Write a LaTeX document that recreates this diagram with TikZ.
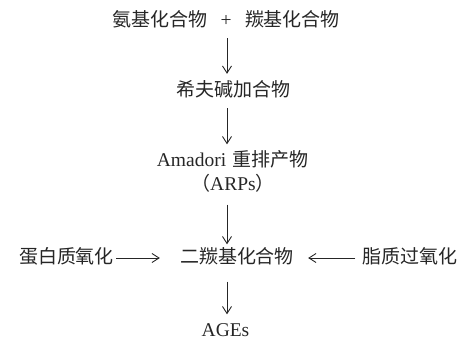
\documentclass[tikz,border=0pt]{standalone}
\usepackage{fontspec}
\setmainfont{Liberation Serif}
\newfontfamily\cjk[Scale=0.974]{Noto Sans CJK SC}
\usepackage{tikz}
\usetikzlibrary{arrows.meta}
\tikzset{every node/.style={inner sep=0pt,text height=14bp,text depth=3bp,
        font=\fontsize{19.5bp}{22bp}\selectfont,text=black!85},
    flow/.style={draw=black!85,line width=0.9bp,-{Straight Barb[length=7bp,width=9bp]}},
    down/.style={flow,shorten <=9bp,shorten >=8bp}}

\begin{document}
\begin{tikzpicture}[x=1bp,y=1bp]
    \useasboundingbox (0,0) rectangle (459,344);
    \coordinate (ax) at (227,0);
    \node (amino) at (226,323.5) {{\cjk 氨基化合物}\hspace{13.5bp}+\hspace{13.5bp}{\cjk 羰基化合物}};
    \node (schiff) at (233.5,253.5) {\cjk 希夫碱加合物};
    \node (amadori) at (232.5,183) {Amadori\hspace{6bp}{\cjk 重排产物}};
    \node (arps) at (233,159) {{\cjk （}ARPs{\cjk ）}};
    \node (dicarb) at (237,86) {\cjk 二羰基化合物};
    \node (protein) at (66.5,86) {\cjk 蛋白质氧化};
    \node (lipid) at (410,86) {\cjk 脂质过氧化};
    \node (ages) at (225.5,13) {AGEs};
    % main chain
    \draw[down] (amino.south -| ax) -- (schiff.north -| ax);
    \draw[down] (schiff.south -| ax) -- (amadori.north -| ax);
    \draw[down,shorten <=11bp,shorten >=5bp] (arps.south -| ax) -- (dicarb.north -| ax);
    \draw[down,shorten <=15bp] (dicarb.south -| ax) -- (ages.north -| ax);
    % side inputs
    \draw[flow,shorten <=2bp,shorten >=20bp] (protein.east) -- (dicarb.west);
    \draw[flow,shorten <=7bp,shorten >=14bp] (lipid.west) -- (dicarb.east);
\end{tikzpicture}
\end{document}
